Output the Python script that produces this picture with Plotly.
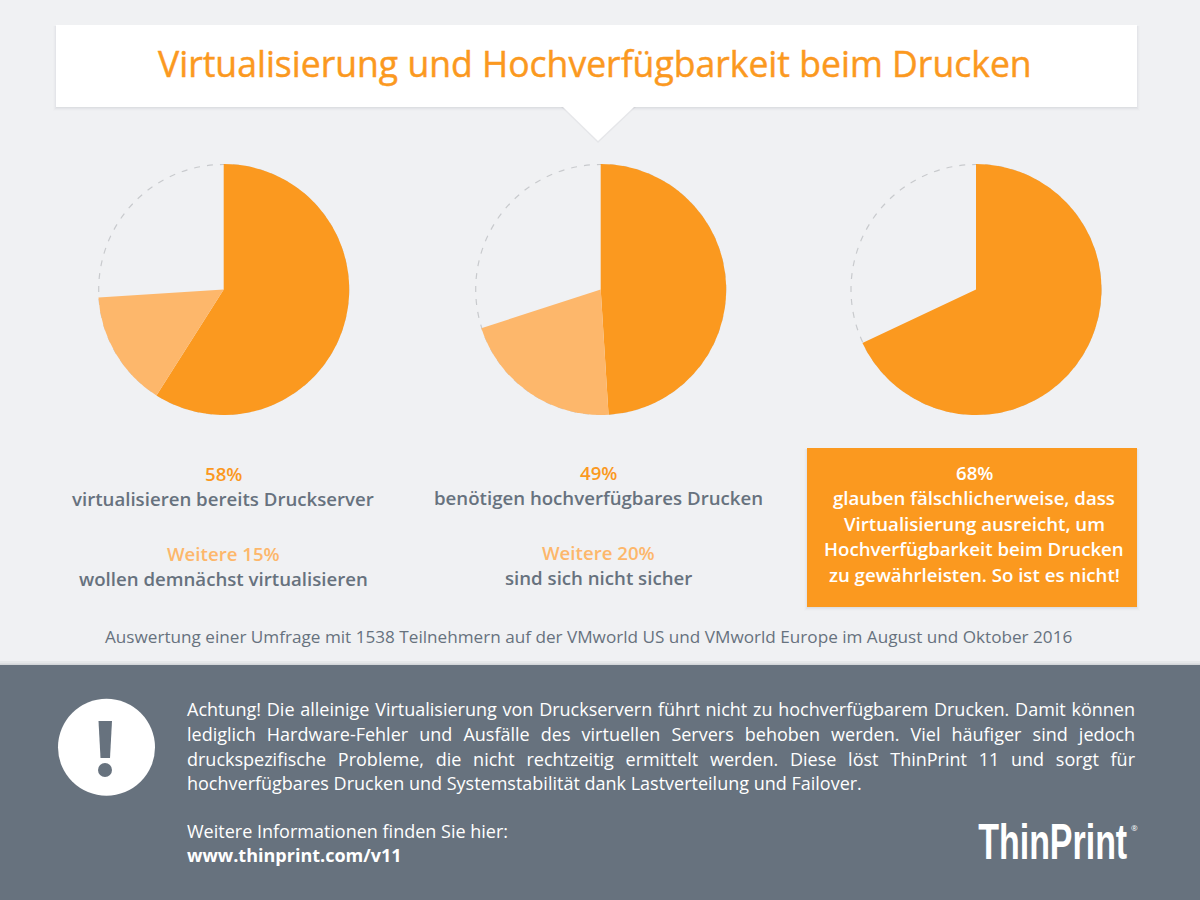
import plotly.graph_objects as go

# ---- data ----
segments = ["Anteil", "Weitere", "Rest"]
pie1_values = [59, 15, 26]
pie2_values = [49, 21, 30]
pie3_values = [68, 0, 32]

title_text = "Virtualisierung und Hochverfügbarkeit beim Drucken"
col1_lines = ["58%", "virtualisieren bereits Druckserver", "Weitere 15%", "wollen demnächst virtualisieren"]
col2_lines = ["49%", "benötigen hochverfügbares Drucken", "Weitere 20%", "sind sich nicht sicher"]
col3_lines = ["68%", "glauben fälschlicherweise, dass", "Virtualisierung ausreicht, um",
              "Hochverfügbarkeit beim Drucken", "zu gewährleisten. So ist es nicht!"]
caption_text = "Auswertung einer Umfrage mit 1538 Teilnehmern auf der VMworld US und VMworld Europe im August und Oktober 2016"
justified_lines = [
    "Achtung! Die alleinige Virtualisierung von Druckservern führt nicht zu hochverfügbarem Drucken. Damit können",
    "lediglich Hardware-Fehler und Ausfälle des virtuellen Servers behoben werden. Viel häufiger sind jedoch",
    "druckspezifische Probleme, die nicht rechtzeitig ermittelt werden. Diese löst ThinPrint 11 und sorgt für",
]
last_line = "hochverfügbares Drucken und Systemstabilität dank Lastverteilung und Failover."
info_text = "Weitere Informationen finden Sie hier:"
url_text = "www.thinprint.com/v11"
logo_text = "ThinPrint"

# ---- style ----
W, H = 1200, 900
BG = "#f0f1f3"
ORANGE = "#fb991f"
LIGHT = "#fdb76b"
SLATE = "#67727e"
FONT = "Open Sans"
R = 125.5
CAPTION = 17.15
BODY = 18
HEAD = 18.65


def px(x):
    return x / W


def py(y):
    return 1 - y / H


def rect(x0, y0, x1, y1, color):
    return dict(type="rect", xref="paper", yref="paper", x0=px(x0), x1=px(x1), y0=py(y0), y1=py(y1),
                fillcolor=color, line=dict(width=0), layer="below")


def circle(cx, cy, r, fill="rgba(0,0,0,0)", line=None, layer="below"):
    return dict(type="circle", xref="paper", yref="paper", x0=px(cx - r), x1=px(cx + r),
                y0=py(cy + r), y1=py(cy - r), fillcolor=fill, line=line or dict(width=0), layer=layer)


def poly(points, color, layer="below"):
    path = "M " + " L ".join(f"{px(x)} {py(y)}" for x, y in points) + " Z"
    return dict(type="path", xref="paper", yref="paper", path=path, fillcolor=color,
                line=dict(width=0), layer=layer)


def label(x, y, text, size, color, weight=400, anchor="center", family=FONT):
    return dict(x=px(x), y=py(y), xref="paper", yref="paper", text=text, showarrow=False,
                xanchor=anchor, yanchor="middle", borderpad=0,
                font=dict(family=family, size=size, color=color, weight=weight))


def shadow(x0, y0, x1, y1):
    out = []
    for i, a in zip((4, 3, 2, 1), (0.012, 0.02, 0.03, 0.04)):
        out.append(rect(x0 - i + 1, y0 + 1, x1 + i - 1, y1 + i, f"rgba(60,70,80,{a})"))
    return out


shapes = []
shapes += shadow(56, 25, 1137, 107)
shapes.append(poly([(561, 107), (636, 107), (598, 143)], "rgba(60,70,80,0.06)"))
shapes.append(rect(56, 25, 1137, 107, "#ffffff"))
shapes.append(poly([(563, 107), (634, 107), (598, 141)], "#ffffff"))
shapes += shadow(807, 448, 1137, 607)
shapes.append(rect(807, 448, 1137, 607, ORANGE))
shapes.append(rect(0, 661, W, 665, "rgba(60,70,80,0.05)"))
shapes.append(rect(0, 663.5, W, 665, "rgba(60,70,80,0.10)"))
shapes.append(rect(0, 665, W, H, SLATE))
shapes.append(circle(106.5, 747.3, 48.5, "#ffffff"))
shapes.append(poly([(98.5, 721), (112, 721), (110, 758), (100.5, 758)], SLATE))
shapes.append(circle(105, 770, 7, SLATE))

pies = [(223.7, 289.5, pie1_values), (600.7, 289.5, pie2_values), (976, 289.5, pie3_values)]
fig = go.Figure()
for cx, cy, vals in pies:
    shapes.append(circle(cx, cy, R - 0.5, line=dict(color="#c8cacd", width=1.2, dash="6px,7px")))
    fig.add_trace(go.Pie(
        labels=segments, values=vals, sort=False, direction="clockwise", rotation=0,
        domain=dict(x=[px(cx - R), px(cx + R)], y=[py(cy + R), py(cy - R)]),
        marker=dict(colors=[ORANGE, LIGHT, "rgba(0,0,0,0)"], line=dict(width=0)),
        textinfo="none", hoverinfo="skip", showlegend=False,
    ))

ann = [label(595, 63, title_text, 35.55, ORANGE)]
for cx, ys, lines in ((223, (473.5, 498.5, 553.5, 578.5), col1_lines), (598.5, (472.5, 497.5, 552.5, 577.5), col2_lines)):
    colors = [ORANGE, SLATE, LIGHT, SLATE]
    for y, t, c in zip(ys, lines, colors):
        ann.append(label(cx, y, t, HEAD, c, 600))
for y, t in zip((472.5, 497.5, 523.5, 548.5, 574.5), col3_lines):
    ann.append(label(974, y, t, HEAD, "#ffffff", 600))
ann.append(label(588, 636.5, caption_text, CAPTION, SLATE))
for y, t in zip((709, 733.5, 758.5), justified_lines):
    ann.append(label(186, y, t, BODY, "#ffffff", anchor="left"))
ann.append(label(186, 783, last_line, BODY, "#ffffff", anchor="left"))
ann.append(label(186, 831, info_text, BODY, "#ffffff", anchor="left"))
ann.append(label(186, 855, url_text, BODY, "#ffffff", 700, anchor="left"))
ann.append(label(1052.5, 842, logo_text, 50, "#ffffff", 700, family="Liberation Sans"))
ann.append(label(1134, 827.5, "®", 8, "#ffffff"))

fig.update_layout(width=W, height=H, margin=dict(l=0, r=0, t=0, b=0), paper_bgcolor=BG, plot_bgcolor=BG,
                  shapes=shapes, annotations=ann, showlegend=False)

# justify the three body lines to x = 1134, condense the logo wordmark, thicken the title
post = """
document.body.style.margin = '0';
document.querySelectorAll('.annotation-text').forEach(function (t) {
  var s = t.textContent;
  if (s.indexOf('Achtung') === 0 || s.indexOf('lediglich') === 0 || s.indexOf('druckspezifische') === 0) {
    var n = s.split(' ').length - 1;
    var w = t.getComputedTextLength();
    var extra = 948 - w;
    t.style.wordSpacing = (extra / n) + 'px';
    t.setAttribute('x', parseFloat(t.getAttribute('x') || 0) + extra / 2);
  }
  if (s === 'ThinPrint') {
    var cx = parseFloat(t.getAttribute('x') || 0);
    var sx = 149 / t.getComputedTextLength();
    t.setAttribute('transform', 'translate(' + cx + ',0) scale(' + sx + ',1) translate(' + (-cx) + ',0)');
  }
  if (s.indexOf('Virtualisierung und') === 0) {
    t.style.stroke = '#fb991f';
    t.style.strokeWidth = '0.45px';
  }
});
"""
fig.write_html("out.html", post_script=post, config=dict(displayModeBar=False))
